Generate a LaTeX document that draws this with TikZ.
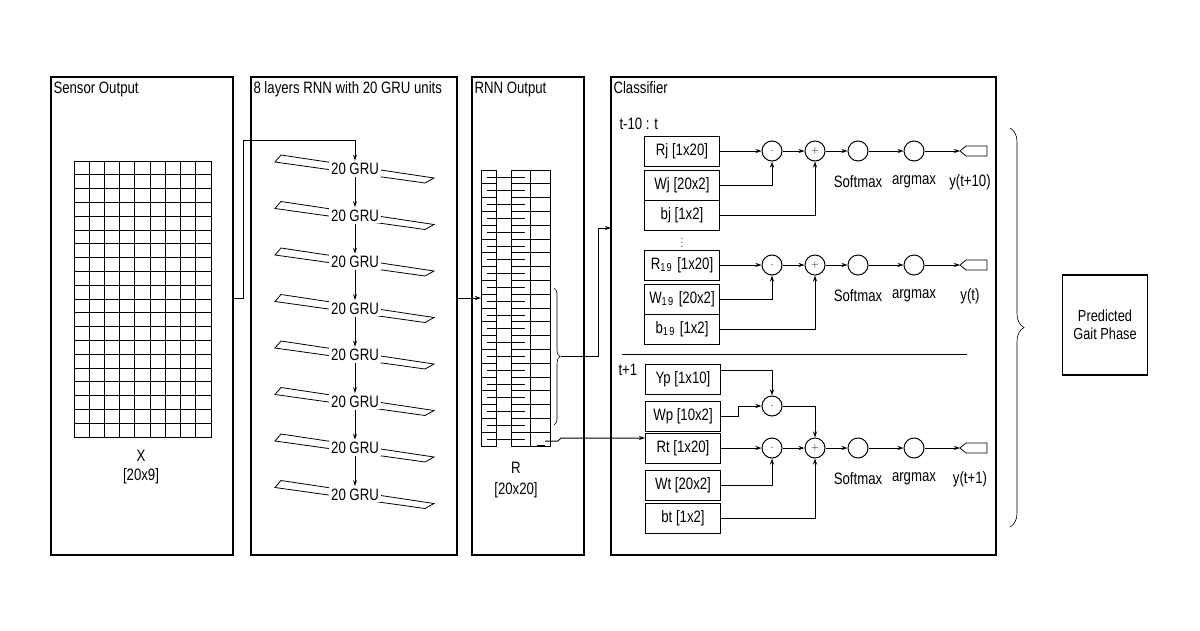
\documentclass[tikz,border=0pt]{standalone}
\usepackage{fontspec}
\setmainfont{Liberation Sans}[FakeStretch=0.8]
\usetikzlibrary{arrows.meta,decorations.pathreplacing}
\begin{document}
\begin{tikzpicture}[x=1pt,y=-1pt,line width=1pt,
  every node/.style={font=\fontsize{16.5}{19}\selectfont,inner sep=1pt},
  panel/.style={draw,line width=1.1pt},
  ptitle/.style={anchor=north west},
  bx/.style={draw,minimum width=75pt,minimum height=30pt,inner sep=0pt},
  op/.style={draw,circle,minimum size=20pt,inner sep=0pt,font=\fontsize{10}{10}\selectfont},
  arr/.style={-{Stealth[length=6pt,width=4pt]}},
  sheet/.style={draw,line width=0.8pt}]
\useasboundingbox (0,0) rectangle (1200,630);
% panels
\draw[panel] (51,77) rectangle (233,555);
\node[ptitle] at (52,80) {Sensor Output};
\draw[panel] (251,77) rectangle (457,555);
\node[ptitle] at (252,80) {8 layers RNN with 20 GRU units};
\draw[panel] (472,77) rectangle (584,555);
\node[ptitle] at (473,80) {RNN Output};
\draw[panel] (611,77) rectangle (996,555);
\node[ptitle] at (612,80) {Classifier};
% sensor grid
\foreach \i in {0,...,8}{\foreach \j in {0,...,19}{
  \draw[line width=0.8pt] ({74+\i*15.22},{161+\j*13.8}) rectangle ++(15.22,13.8);}}
\node (X) at (141,456) {X};
\node (Xd) at (141,476) {[20x9]};
% GRU stack
\foreach \k in {1,...,8}{
  \pgfmathsetmacro\yc{169+(\k-1)*46.5}
  \draw[sheet] (275,\yc-7) -- (281,\yc-14) -- (434,\yc+9) -- (425,\yc+14) -- cycle;
  \node[fill=white,inner sep=2pt] (g\k) at (355,\yc) {20 GRU};
}
\foreach \a/\b in {1/2,2/3,3/4,4/5,5/6,6/7,7/8}{\draw[arr] (g\a.south) -- (g\b.north);}
\coordinate (sOut) at (233,298);
\draw[arr] (sOut) -- (243,298) -- (243,140) -- (355,140) -- (g1.north);
% RNN output grid
\foreach \j in {0,...,19}{
  \pgfmathsetmacro\yy{170+\j*13.8}
  \draw[line width=0.8pt] (481,\yy) rectangle (496,\yy+13.8);
  \draw[line width=0.8pt] (511,\yy) rectangle (530,\yy+13.8);
  \draw[line width=0.8pt] (530,\yy) rectangle (550,\yy+13.8);
  \draw[line width=0.8pt] (487,\yy+6.9) -- (525,\yy+6.9);
}
\draw[line width=0.8pt] (537,445) -- (545,445);
\coordinate (gridIn) at (481,298);
\draw[arr] (457,298) -- (gridIn);
\node (R) at (516,468) {R};
\node (Rd) at (516,490) {[20x20]};
\draw[line width=0.6pt,decorate,decoration={brace,amplitude=6pt}] (554,288) -- (554,425);
\coordinate (bt) at (561,356);
% classifier upper
\node[anchor=west] at (618,124) {t-10 : t};
\node[bx] (Rj) at (682,151) {Rj [1x20]};
\node[bx] (Wj) at (682,185) {Wj [20x2]};
\node[bx] (bj) at (682,215) {bj [1x2]};
\node at (682,240) {\fontsize{10}{10}\selectfont$\vdots$};
\node[bx] (R19) at (682,265) {R$_{\mathrm{19}}$ [1x20]};
\node[bx] (W19) at (682,299) {W$_{\mathrm{19}}$ [20x2]};
\node[bx] (b19) at (682,329) {b$_{\mathrm{19}}$ [1x2]};
\draw[line width=1pt] (622,354) -- (967,354);
\node[anchor=west] at (617,370) {t+1};
\node[bx] (Yp) at (683,379) {Yp [1x10]};
\node[bx] (Wp) at (683,416) {Wp [10x2]};
\node[bx] (Rt) at (683,448) {Rt [1x20]};
\node[bx] (Wt) at (683,485) {Wt [20x2]};
\node[bx] (bt2) at (683,518) {bt [1x2]};
\coordinate (clsIn) at (611,228);
\draw[arr] (bt) -- (598,356) -- (598,228) -- (clsIn);
\draw[arr] (545,441) -- (558,441) -- (561,438) -- (Rt.west |- 0,438);
% operator rows
\newcommand{\oprow}[6]{%
  \node[op] (#2m) at (772,#1) {$\cdot$};
  \node[op] (#2p) at (815,#1) {$+$};
  \node[op] (#2s) at (858,#1) {};
  \node[op] (#2a) at (914,#1) {};
  \draw[line width=0.8pt] (960,#1) -- (966,#1-5) -- (987,#1-5) -- (987,#1+5) -- (966,#1+5) -- cycle;
  \coordinate (#2o) at (960,#1);
  \draw[arr] (#4.east |- 0,#1) -- (#2m);
  \draw[arr] (#2m) -- (#2p);
  \draw[arr] (#2p) -- (#2s);
  \draw[arr] (#2s) -- (#2a);
  \draw[arr] (#2a) -- (#2o);
  \draw[arr] (#5.east) -| (#2m.south);
  \draw[arr] (#6.east) -| (#2p.south);
  \node at (858,#1+31) {Softmax};
  \node at (914,#1+31) {argmax};
  \node at (970,#1+31) {#3};
}
\oprow{151}{u}{y(t+10)}{Rj}{Wj}{bj}
\oprow{265}{v}{y(t)}{R19}{W19}{b19}
\oprow{448}{w}{y(t+1)}{Rt}{Wt}{bt2}
\node[op] (pm) at (772,406) {$\cdot$};
\draw[arr] (Yp.east |- 0,370) -| (pm.north);
\draw[arr] (Wp.east) -- (738,416) -- (738,406) -- (pm.west);
\draw[arr] (pm.east) -| (wp.north);
% brace and result
\draw[line width=0.6pt,decorate,decoration={brace,amplitude=14pt}] (1010,128) -- (1010,527);
\node[draw,panel,minimum width=85pt,minimum height=100pt,align=center,font=\fontsize{16}{18}\selectfont] (pg) at (1105,325) {Predicted\\Gait Phase};
\end{tikzpicture}
\end{document}
